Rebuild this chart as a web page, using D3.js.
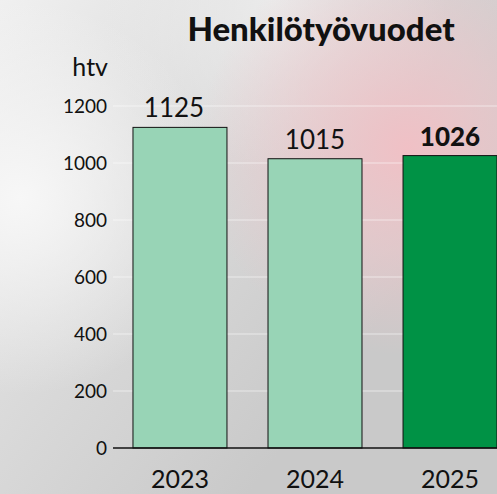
<!DOCTYPE html>
<html>
<head>
<meta charset="utf-8">
<script src="https://cdn.jsdelivr.net/npm/d3@7"></script>
<style>
  body { margin: 0; overflow: hidden; }
  svg { display: block; font-family: Lato, "Open Sans", sans-serif; }
</style>
</head>
<body>
<div id="chart"></div>
<script>
var years = ["2023", "2024", "2025"];
var values = [1125, 1015, 1026];
var yTicks = [0, 200, 400, 600, 800, 1000, 1200];

var svgWidth = 497;
var svgHeight = 494;

var svg = d3.select("#chart")
  .append("svg")
  .attr("width", svgWidth)
  .attr("height", svgHeight);

// background blur
var defs = svg.append("defs");
var base = defs.append("linearGradient").attr("id", "bg").attr("x1", 0).attr("y1", 0).attr("x2", 0.8).attr("y2", 0.6);
base.append("stop").attr("offset", "0%").attr("stop-color", "#f0f0f0");
base.append("stop").attr("offset", "40%").attr("stop-color", "#dedede");
base.append("stop").attr("offset", "100%").attr("stop-color", "#c9c9c9");

var topGlow = defs.append("radialGradient").attr("id", "topGlow").attr("cx", 0.55).attr("cy", 0.0).attr("r", 0.35);
topGlow.append("stop").attr("offset", "0%").attr("stop-color", "#ececec").attr("stop-opacity", 0.9);
topGlow.append("stop").attr("offset", "100%").attr("stop-color", "#ececec").attr("stop-opacity", 0);

var pink = defs.append("radialGradient").attr("id", "pink").attr("cx", 0.82).attr("cy", 0.3).attr("r", 0.42);
pink.append("stop").attr("offset", "0%").attr("stop-color", "#f0c0c5").attr("stop-opacity", 1);
pink.append("stop").attr("offset", "50%").attr("stop-color", "#eec6ca").attr("stop-opacity", 0.6);
pink.append("stop").attr("offset", "100%").attr("stop-color", "#eec6ca").attr("stop-opacity", 0);

var white = defs.append("radialGradient").attr("id", "white").attr("cx", 0.04).attr("cy", 0.4).attr("r", 0.4);
white.append("stop").attr("offset", "0%").attr("stop-color", "#f7f7f7").attr("stop-opacity", 1);
white.append("stop").attr("offset", "100%").attr("stop-color", "#f7f7f7").attr("stop-opacity", 0);

svg.append("rect").attr("width", svgWidth).attr("height", svgHeight).attr("fill", "url(#bg)");
svg.append("rect").attr("width", svgWidth).attr("height", svgHeight).attr("fill", "url(#topGlow)");
svg.append("rect").attr("width", svgWidth).attr("height", svgHeight).attr("fill", "url(#pink)");
svg.append("rect").attr("width", svgWidth).attr("height", svgHeight).attr("fill", "url(#white)");

var x = d3.scaleBand()
  .domain(years)
  .range([113, 517])
  .paddingInner(0.304)
  .paddingOuter(0.148);

var y = d3.scaleLinear()
  .domain([0, 1200])
  .range([448, 106]);

// gridlines
svg.append("g")
  .selectAll("line")
  .data(yTicks.slice(1))
  .enter()
  .append("line")
  .attr("x1", 113)
  .attr("x2", svgWidth)
  .attr("y1", d => y(d))
  .attr("y2", d => y(d))
  .attr("stroke", "#ffffff")
  .attr("stroke-opacity", 0.55)
  .attr("stroke-width", 1.2);

// tick labels
svg.append("g")
  .selectAll("text")
  .data(yTicks)
  .enter()
  .append("text")
  .attr("x", 107)
  .attr("y", d => y(d) + 7)
  .attr("text-anchor", "end")
  .attr("font-size", 19)
  .attr("fill", "#111")
  .text(d => d);

// bars
svg.append("g")
  .selectAll("rect")
  .data(values)
  .enter()
  .append("rect")
  .attr("x", (d, i) => x(years[i]))
  .attr("y", d => y(d))
  .attr("width", x.bandwidth())
  .attr("height", d => y(0) - y(d))
  .attr("fill", (d, i) => i === 2 ? "#009245" : "#98d4b6")
  .attr("stroke", "#111")
  .attr("stroke-width", 1);

// zero axis line
svg.append("line")
  .attr("x1", 113)
  .attr("x2", svgWidth)
  .attr("y1", y(0))
  .attr("y2", y(0))
  .attr("stroke", "#111")
  .attr("stroke-width", 1.3);

// value labels
svg.append("g")
  .selectAll("text")
  .data(values)
  .enter()
  .append("text")
  .attr("x", (d, i) => x(years[i]) + x.bandwidth() / 2 - (i === 0 ? 6 : 0))
  .attr("y", d => y(d) - 10)
  .attr("text-anchor", "middle")
  .attr("font-size", 26)
  .attr("font-weight", (d, i) => i === 2 ? 900 : 400)
  .attr("fill", "#111")
  .text(d => d);

// year labels
svg.append("g")
  .selectAll("text")
  .data(years)
  .enter()
  .append("text")
  .attr("x", d => x(d) + x.bandwidth() / 2)
  .attr("y", 488)
  .attr("text-anchor", "middle")
  .attr("font-size", 25)
  .attr("fill", "#111")
  .text(d => d);

// unit
svg.append("text")
  .attr("x", 108)
  .attr("y", 76)
  .attr("text-anchor", "end")
  .attr("font-size", 25)
  .attr("fill", "#111")
  .text("htv");

// title
svg.append("text")
  .attr("x", 321)
  .attr("y", 41)
  .attr("text-anchor", "middle")
  .attr("font-size", 33)
  .attr("font-weight", 900)
  .attr("fill", "#111")
  .text("Henkilötyövuodet");
</script>
</body>
</html>
